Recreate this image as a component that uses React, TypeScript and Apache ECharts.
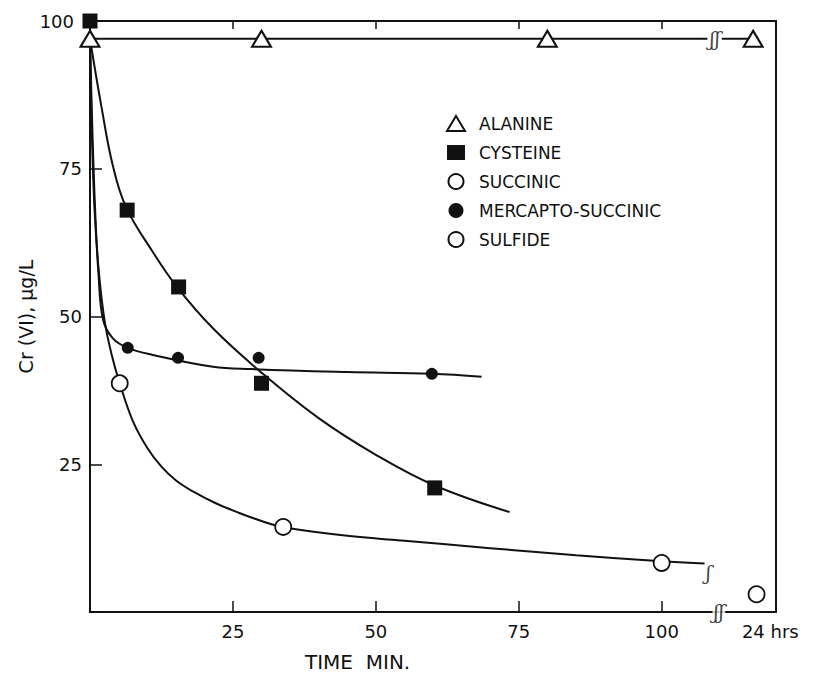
import React, { useEffect, useRef } from "react";
import * as echarts from "echarts";

// ---- data ----
const X_TICKS = [25, 50, 75, 100];
const HRS_POS = 119; // position of the "24 hrs" label on the broken axis
const Y_TICKS_LABELS = ["25", "50", "75", "100"];

const alaninePts = [[0, 97], [30, 97], [80, 97], [116, 97]];
const alanineLineA = [[0, 97], [108, 97]];
const alanineLineB = [[110.5, 97], [116, 97]];

const cysteinePts = [[0, 100], [6.5, 68], [15.5, 55], [30, 38.7], [60.3, 21]];
const cysteineCurve = [
  [0, 97], [2, 85.5], [4, 75.5], [6.3, 68.5], [10.8, 61.2], [15.2, 55], [21.5, 48],
  [30, 40.5], [40, 32.8], [50, 26.6], [60.3, 21.4], [73.4, 16.9],
];

const succinicPts: number[][] = [];

const mercaptoPts = [[6.6, 44.7], [15.4, 43], [29.5, 43], [59.8, 40.3]];
const mercaptoCurve = [
  [0, 97], [0.4, 82], [0.9, 68], [1.5, 57], [2.3, 49.4], [4, 46.3], [6.6, 44.7],
  [11, 43.5], [21.5, 41.5], [28.3, 41.1], [45, 40.6], [59.8, 40.3], [68.5, 39.8],
];

const sulfidePts = [[5.2, 38.7], [33.8, 14.4], [100, 8.3], [116.6, 3]];
const sulfideCurve = [
  [0, 97], [0.3, 82], [0.8, 68], [1.6, 57], [2.6, 49], [3.8, 43.5], [5.2, 38.7], [7.5, 32.3],
  [10, 27.8], [12.5, 24.6], [15, 22.3], [18, 20.4], [22, 18.4], [26, 16.8], [30.9, 15.1],
  [34, 14.3], [45, 12.9], [54.5, 12.1], [70, 10.8], [85, 9.6], [98, 8.7], [107.5, 8.2],
];

const axisBreaks = [[110, 0], [109.3, 97]];
const curveEndBreak = [[108.2, 6.6]];

const INK = "#111";
const FONT = "DejaVu Sans";

export default function App() {
  const ref = useRef<HTMLDivElement>(null);
  useEffect(() => {
    if (!ref.current) return;
    const chart = echarts.init(ref.current, null, { renderer: "svg" });
    const curve = (name: string, data: number[][]) => ({
      name,
      type: "line",
      data,
      symbol: "none",
      smooth: 0.4,
      lineStyle: { color: INK, width: 2 },
      silent: true,
      z: 2,
    });
    const breakLabel = (name: string, data: number[][], text: string, bg: boolean) => ({
      name,
      type: "scatter",
      data,
      symbolSize: 0,
      silent: true,
      z: 6,
      label: {
        show: true,
        position: "inside",
        formatter: text,
        fontFamily: "DejaVu Serif",
        fontStyle: "italic",
        fontSize: 20,
        color: INK,
        backgroundColor: bg ? "#fff" : "transparent",
        padding: [0, 1],
      },
    });
    chart.setOption({
      animation: false,
      backgroundColor: "#fff",
      grid: { left: 90, right: 38, top: 21, bottom: 72 },
      legend: {
        orient: "vertical",
        left: 441,
        top: 110,
        itemWidth: 18,
        itemHeight: 15,
        itemGap: 12,
        textStyle: { fontSize: 17, fontFamily: FONT, color: INK, padding: [0, 0, 0, 9] },
        data: ["ALANINE", "CYSTEINE", "SUCCINIC", "MERCAPTO-SUCCINIC", "SULFIDE"],
      },
      graphic: [
        {
          type: "text",
          left: 305,
          top: 652,
          style: { text: "TIME  MIN.", fontSize: 20, fontFamily: FONT, fill: INK },
        },
      ],
      xAxis: [
        {
          type: "value",
          min: 0,
          max: 120,
          position: "bottom",
          axisLine: { onZero: false, lineStyle: { color: INK, width: 2 } },
          axisTick: { inside: true, length: 11, lineStyle: { color: INK, width: 1.5 }, customValues: X_TICKS },
          axisLabel: {
            customValues: [...X_TICKS, HRS_POS],
            formatter: (v: number) => (v === HRS_POS ? "24 hrs" : String(v)),
            fontSize: 18,
            fontFamily: FONT,
            color: INK,
            margin: 10,
          },
          splitLine: { show: false },
        },
        {
          type: "value",
          min: 0,
          max: 120,
          position: "top",
          axisLine: { onZero: false, lineStyle: { color: INK, width: 2 } },
          axisTick: { inside: true, length: 8, lineStyle: { color: INK, width: 1.5 }, customValues: X_TICKS },
          axisLabel: { show: false },
          splitLine: { show: false },
        },
      ],
      yAxis: [
        {
          type: "value",
          min: 0,
          max: 100,
          interval: 25,
          name: "Cr (VI), μg/L",
          nameLocation: "middle",
          nameGap: 55,
          nameMoveOverlap: false,
          nameTextStyle: { fontSize: 19, fontFamily: FONT, color: INK },
          axisLine: { show: true, onZero: false, lineStyle: { color: INK, width: 2 } },
          axisTick: { inside: true, length: 12, lineStyle: { color: INK, width: 1.5 } },
          axisLabel: {
            fontSize: 18,
            fontFamily: FONT,
            color: INK,
            margin: 8,
            formatter: (v: number) =>
              v === 0 ? "" : v === 100 ? "{top|" + Y_TICKS_LABELS[3] + "}" : Y_TICKS_LABELS[v / 25 - 1],
            rich: {
              top: { fontSize: 18, fontFamily: FONT, color: INK, padding: [0, 8, 0, 0] },
            },
          },
          splitLine: { show: false },
        },
        {
          type: "value",
          min: 0,
          max: 100,
          position: "right",
          axisLine: { show: true, onZero: false, lineStyle: { color: INK, width: 2 } },
          axisTick: { show: false },
          axisLabel: { show: false },
          splitLine: { show: false },
        },
      ],
      series: [
        curve("_alaA", alanineLineA),
        curve("_alaB", alanineLineB),
        curve("_cys", cysteineCurve),
        curve("_mer", mercaptoCurve),
        curve("_sul", sulfideCurve),
        breakLabel("_brk", axisBreaks, "ʃʃ", true),
        breakLabel("_brk2", curveEndBreak, "ʃ", false),
        {
          name: "ALANINE",
          type: "scatter",
          data: alaninePts,
          symbol: "triangle",
          symbolSize: [19, 16],
          itemStyle: { color: "#fff", borderColor: INK, borderWidth: 2, opacity: 1 },
          z: 5,
        },
        {
          name: "CYSTEINE",
          type: "scatter",
          data: cysteinePts,
          symbol: "rect",
          symbolSize: 15,
          itemStyle: { color: INK, opacity: 1 },
          z: 5,
        },
        {
          name: "SUCCINIC",
          type: "scatter",
          data: succinicPts,
          symbol: "circle",
          symbolSize: 10,
          itemStyle: { color: "#fff", borderColor: INK, borderWidth: 1.5, opacity: 1 },
          z: 5,
        },
        {
          name: "MERCAPTO-SUCCINIC",
          type: "scatter",
          data: mercaptoPts,
          symbol: "circle",
          symbolSize: 12,
          itemStyle: { color: INK, opacity: 1 },
          z: 5,
        },
        {
          name: "SULFIDE",
          type: "scatter",
          data: sulfidePts,
          symbol: "circle",
          symbolSize: 16,
          itemStyle: { color: "#fff", borderColor: INK, borderWidth: 1.8, opacity: 1 },
          z: 5,
        },
      ],
    });
    return () => chart.dispose();
  }, []);
  return (
    <div
      ref={ref}
      style={{ position: "absolute", left: 0, top: 0, width: 814, height: 684, background: "#fff" }}
    />
  );
}
